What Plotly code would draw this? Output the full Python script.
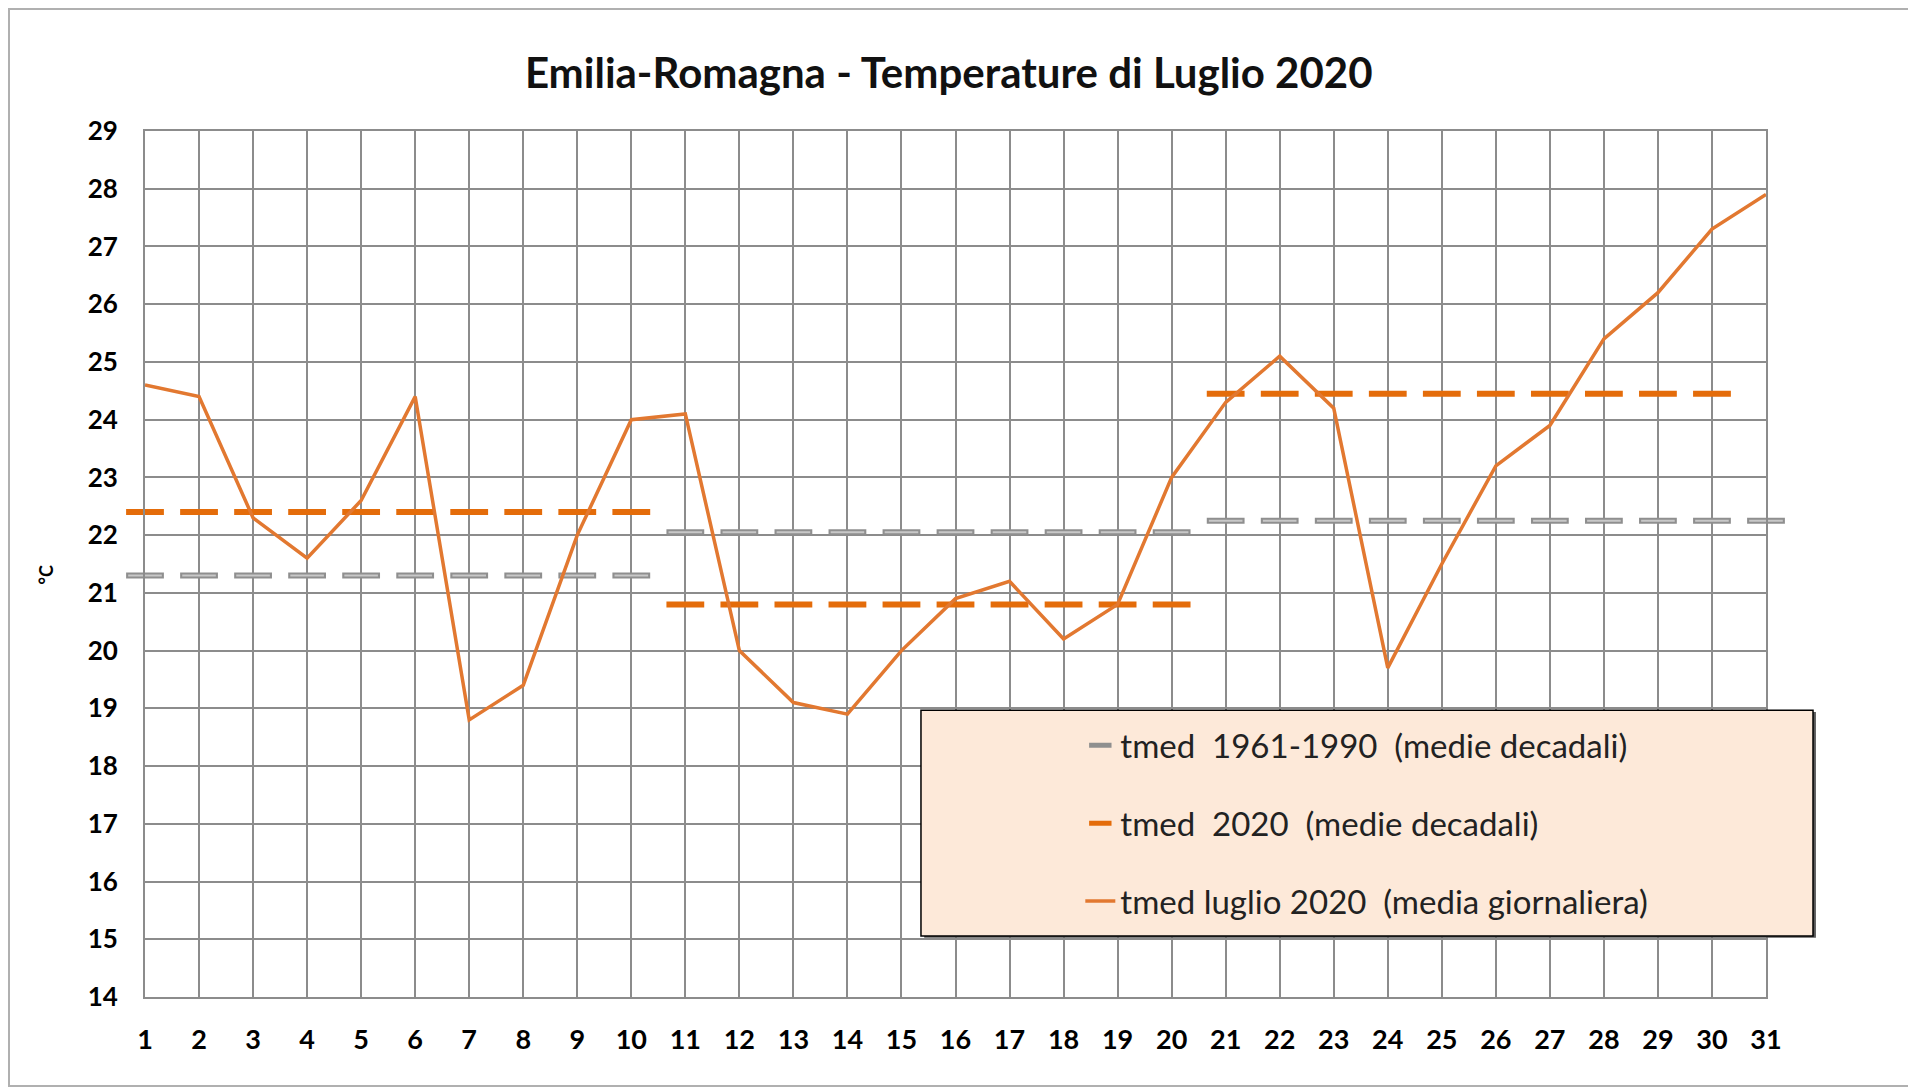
import plotly.graph_objects as go

# days of July 2020
days = [1, 2, 3, 4, 5, 6, 7, 8, 9, 10, 11, 12, 13, 14, 15, 16,
        17, 18, 19, 20, 21, 22, 23, 24, 25, 26, 27, 28, 29, 30, 31]

# daily mean temperature, July 2020
tmed_daily = [24.6, 24.4, 22.3, 21.6, 22.6, 24.4, 18.8, 19.4, 22.0, 24.0,
              24.1, 20.0, 19.1, 18.9, 20.0, 20.9, 21.2, 20.2, 20.8, 23.0,
              24.3, 25.1, 24.2, 19.7, 21.5, 23.2, 23.9, 25.4, 26.2, 27.3, 27.9]

# decadal means
clim_decadi = [21.3, 22.05, 22.25]      # 1961-1990
y2020_decadi = [22.4, 20.8, 24.45]      # 2020

# days covered by each decade (third decade of 2020 stops at day 30)
clim_days = [days[0:10], days[10:20], days[20:31]]
y2020_days = [days[0:10], days[10:20], days[20:30]]

y_ticks = [14, 15, 16, 17, 18, 19, 20, 21, 22, 23, 24, 25, 26, 27, 28, 29]

orange = "#E46C0A"
line_orange = "#E27830"
grid = "#8C8C8C"

clim_x, clim_y = [], []
for d, v in zip(clim_days, clim_decadi):
    clim_x += d
    clim_y += [v] * len(d)

y20_x, y20_y = [], []
for d, v in zip(y2020_days, y2020_decadi):
    y20_x += d
    y20_y += [v] * len(d)

fig = go.Figure()

# 1961-1990 decadal means (grey dash markers, outline + lighter core)
fig.add_trace(go.Scatter(
    x=clim_x, y=clim_y, mode="markers", name="tmed  1961-1990  (medie decadali)",
    marker=dict(symbol="line-ew", size=27, line=dict(color="#8F8F8F", width=6)),
    cliponaxis=False, legendgroup="a",
))
fig.add_trace(go.Scatter(
    x=clim_x, y=clim_y, mode="markers", showlegend=False,
    marker=dict(symbol="line-ew", size=24, line=dict(color="#C8C8C8", width=2)),
    cliponaxis=False, hoverinfo="skip",
))

# 2020 decadal means
fig.add_trace(go.Scatter(
    x=y20_x, y=y20_y, mode="markers", name="tmed  2020  (medie decadali)",
    marker=dict(symbol="line-ew", size=27, line=dict(color=orange, width=6)),
    cliponaxis=False, legendgroup="b",
))

# daily means
fig.add_trace(go.Scatter(
    x=days, y=tmed_daily, mode="lines", name="tmed luglio 2020  (media giornaliera)",
    line=dict(color=line_orange, width=3.5), legendgroup="c",
))

fig.update_layout(
    width=1916, height=1092,
    margin=dict(l=137, r=158, t=123, b=103),
    paper_bgcolor="white", plot_bgcolor="white",
    font=dict(family="Lato", color="black"),
    title=dict(text="<b>Emilia-Romagna - Temperature di Luglio 2020</b>",
               x=0.491, xanchor="center", y=0.940, yanchor="middle",
               font=dict(size=42, color="#111111")),
    legend=dict(
        x=0.577, y=0.323, xanchor="left", yanchor="top",
        bgcolor="rgba(0,0,0,0)", borderwidth=0,
        font=dict(size=33, color="#222222"),
        tracegroupgap=32, itemsizing="trace",
    ),
    shapes=[
        # legend shadow and box
        dict(type="rect", xref="paper", yref="paper", layer="above",
             x0=0.4807, x1=1.0308, y0=0.0685, y1=0.329,
             fillcolor="#5A5A5A", line=dict(width=0)),
        dict(type="rect", xref="paper", yref="paper", layer="above",
             x0=0.4787, x1=1.0290, y0=0.0705, y1=0.331,
             fillcolor="#FDE9D9", line=dict(color="black", width=1.5)),
        # outer frame
        dict(type="rect", xref="paper", yref="paper", layer="below",
             x0=-0.0839, x1=1.0901, y0=-0.1028, y1=1.1409,
             line=dict(color="#B0B0B0", width=2)),
    ],
    annotations=[
        dict(text="<b>°C</b>", xref="paper", yref="paper", x=-0.069, y=0.487,
             showarrow=False, textangle=-90, font=dict(size=18)),
    ],
)

fig.update_xaxes(
    range=[1, 31], tickmode="array", tickvals=days,
    showgrid=True, gridcolor=grid, gridwidth=2,
    showline=True, linecolor=grid, linewidth=2, mirror=True,
    zeroline=False, ticks="", ticklabelstandoff=18,
    tickfont=dict(size=27, family="Lato", weight="bold"),
)
fig.update_yaxes(
    range=[14, 29], tickmode="array", tickvals=y_ticks,
    showgrid=True, gridcolor=grid, gridwidth=2,
    showline=True, linecolor=grid, linewidth=2, mirror=True,
    zeroline=False, ticks="", ticklabelstandoff=20,
    tickfont=dict(size=26, family="Lato", weight="bold"),
)

fig.write_html("out.html")
